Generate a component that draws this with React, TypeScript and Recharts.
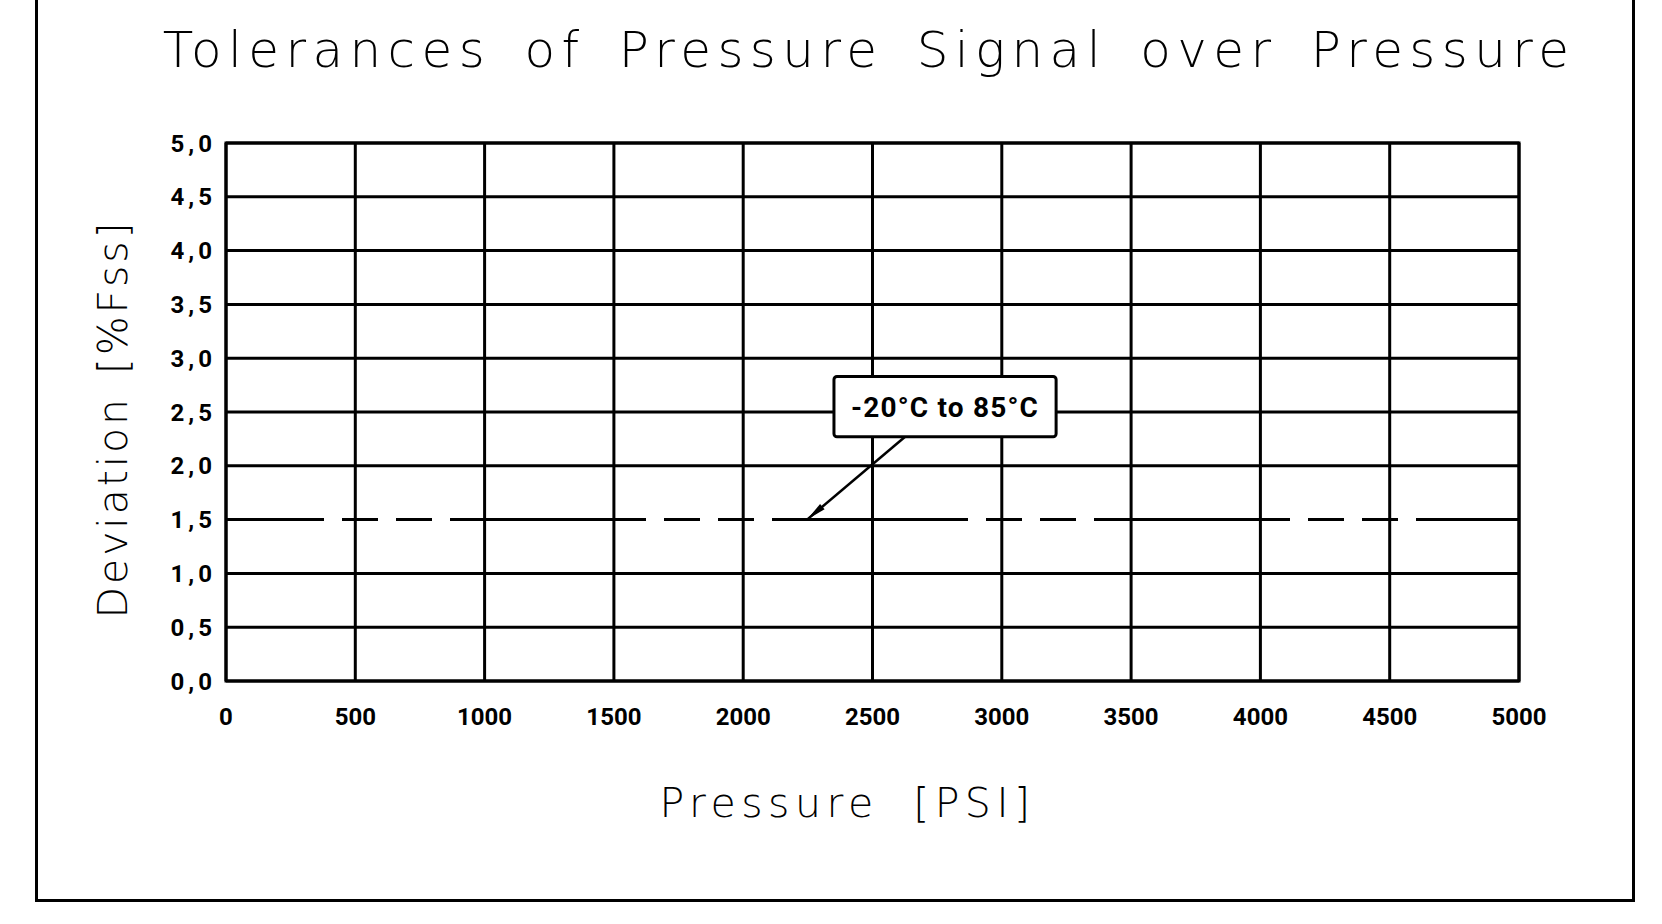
import React from "react";
import {
  LineChart,
  Line,
  XAxis,
  YAxis,
  CartesianGrid,
  ReferenceArea,
  ReferenceLine,
  Label,
} from "recharts";

// ---------- data ----------
const pressureTicks = [0, 500, 1000, 1500, 2000, 2500, 3000, 3500, 4000, 4500, 5000];
const deviationTicks = [0, 0.5, 1, 1.5, 2, 2.5, 3, 3.5, 4, 4.5, 5];
const pressureValues = [0, 5000];
const deviationValues = [1.5, 1.5];

const annotationText = "-20°C to 85°C";
const annotationBoxX = [2351, 3210];
const annotationBoxY = [2.27, 2.83];
const arrowFrom = { x: 2626, y: 2.27 };
const arrowTo = { x: 2247, y: 1.5 };

const titleText = "Tolerances of Pressure Signal over Pressure";
const xAxisTitle = "Pressure [PSI]";
const yAxisTitle = "Deviation [%Fss]";

const data = pressureValues.map((p, i) => ({ pressure: p, deviation: deviationValues[i] }));
// horizontal grid lines: all ticks except where the tolerance line runs
const horizontalGridValues = deviationTicks.filter((t) => !deviationValues.includes(t));

const fmtDeviation = (v: number) => v.toFixed(1).replace(".", ",");

const tickFont = "Roboto, 'DejaVu Sans', sans-serif";
const titleFont = "'DejaVu Sans', sans-serif";

const valid = (arr: any[]) => arr.every((v) => typeof v === "number" && !isNaN(v));

const ArrowShape = (props: any) => {
  const { x1, y1, x2, y2 } = props;
  if (!valid([x1, y1, x2, y2])) return null;
  const dx = x2 - x1;
  const dy = y2 - y1;
  const len = Math.sqrt(dx * dx + dy * dy) || 1;
  const ux = dx / len;
  const uy = dy / len;
  const headLen = 20;
  const headHalf = 3.5;
  const bx = x2 - ux * headLen;
  const by = y2 - uy * headLen;
  const px = -uy;
  const py = ux;
  const pts = `${x2},${y2} ${bx + px * headHalf},${by + py * headHalf} ${bx - px * headHalf},${by - py * headHalf}`;
  return (
    <g>
      <line x1={x1} y1={y1} x2={x2} y2={y2} stroke="#000" strokeWidth={2.5} />
      <polygon points={pts} fill="#000" />
    </g>
  );
};

// annotation box: drawn from its two diagonal corners (given in data units)
const BoxShape = (props: any) => {
  const { x1, y1, x2, y2 } = props;
  if (!valid([x1, y1, x2, y2])) return null;
  const x = Math.min(x1, x2);
  const y = Math.min(y1, y2);
  const w = Math.abs(x2 - x1);
  const h = Math.abs(y2 - y1);
  return (
    <g>
      <rect x={x} y={y} width={w} height={h} rx={3} ry={3} fill="#fff" stroke="#000" strokeWidth={3} />
      <text
        x={x + w / 2}
        y={y + h / 2}
        dy="0.36em"
        textAnchor="middle"
        fill="#000"
        style={{ fontSize: 28, fontWeight: 700, fontFamily: tickFont, letterSpacing: 1.2 }}
      >
        {annotationText}
      </text>
    </g>
  );
};

export default function App() {
  return (
    <div
      style={{
        position: "absolute",
        left: 0,
        top: 0,
        width: 1662,
        height: 924,
        background: "#fff",
        overflow: "hidden",
      }}
    >
      {/* drawing frame */}
      <div
        style={{
          position: "absolute",
          left: 35,
          top: -10,
          width: 1600,
          height: 912,
          boxSizing: "border-box",
          borderLeft: "3px solid #000",
          borderRight: "3px solid #000",
          borderBottom: "3px solid #000",
        }}
      />
      <div style={{ position: "absolute", left: 0, top: 0 }}>
        <LineChart
          width={1662}
          height={924}
          data={data}
          margin={{ top: 143, right: 143, bottom: 93, left: 0 }}
        >
          <CartesianGrid
            horizontal={false}
            vertical={true}
            stroke="#000"
            strokeWidth={3}
            strokeOpacity={1}
          />
          <XAxis
            type="number"
            dataKey="pressure"
            domain={[0, 5000]}
            ticks={pressureTicks}
            interval={0}
            height={150}
            axisLine={false}
            tickLine={false}
            tickSize={0}
            tickMargin={27}
            tick={{ fill: "#000", fontSize: 24, fontWeight: 700, fontFamily: tickFont }}
          >
            <Label
              value={xAxisTitle}
              position="insideBottom"
              offset={14}
              dx={-25}
              fill="#000"
              style={{
                fontSize: 41,
                fontFamily: titleFont,
                fontWeight: 300,
                letterSpacing: 5.5,
                wordSpacing: 16,
                fill: "#000",
              }}
            />
          </XAxis>
          <YAxis
            type="number"
            domain={[0, 5]}
            ticks={deviationTicks}
            interval={0}
            width={226}
            axisLine={false}
            tickLine={false}
            tickSize={0}
            tickMargin={10}
            tickFormatter={fmtDeviation}
            tick={{
              fill: "#000",
              fontSize: 24,
              fontWeight: 700,
              fontFamily: tickFont,
              letterSpacing: 4,
            }}
          >
            <Label
              value={yAxisTitle}
              position="insideLeft"
              angle={-90}
              offset={112}
              dy={7}
              fill="#000"
              style={{
                textAnchor: "middle",
                fontSize: 41,
                fontFamily: titleFont,
                fontWeight: 300,
                letterSpacing: 2.9,
                wordSpacing: 6,
                fill: "#000",
              }}
            />
          </YAxis>
          {horizontalGridValues.map((v) => (
            <ReferenceLine key={`h-${v}`} y={v} stroke="#000" strokeWidth={3} strokeOpacity={1} />
          ))}
          <ReferenceArea
            x1={0}
            x2={5000}
            y1={0}
            y2={5}
            fill="none"
            fillOpacity={0}
            stroke="#000"
            strokeWidth={3}
            strokeOpacity={1}
          />
          <Line
            type="linear"
            dataKey="deviation"
            stroke="#000"
            strokeWidth={3}
            strokeDasharray="98 18 36 18 36 18 98 0"
            dot={false}
            activeDot={false}
            isAnimationActive={false}
          />
          <ReferenceLine
            segment={[arrowFrom, arrowTo]}
            stroke="#000"
            strokeWidth={2.5}
            shape={ArrowShape}
          />
          <ReferenceLine
            segment={[
              { x: annotationBoxX[0], y: annotationBoxY[1] },
              { x: annotationBoxX[1], y: annotationBoxY[0] },
            ]}
            stroke="#000"
            shape={BoxShape}
          />
        </LineChart>
      </div>
      {/* title */}
      <svg
        width={1662}
        height={924}
        style={{ position: "absolute", left: 0, top: 0, pointerEvents: "none" }}
      >
        <text
          x={869}
          y={67}
          textAnchor="middle"
          fill="#000"
          style={{
            fontFamily: titleFont,
            fontSize: 50,
            fontWeight: 300,
            letterSpacing: 6.4,
            wordSpacing: 11,
          }}
        >
          {titleText}
        </text>
      </svg>
    </div>
  );
}
